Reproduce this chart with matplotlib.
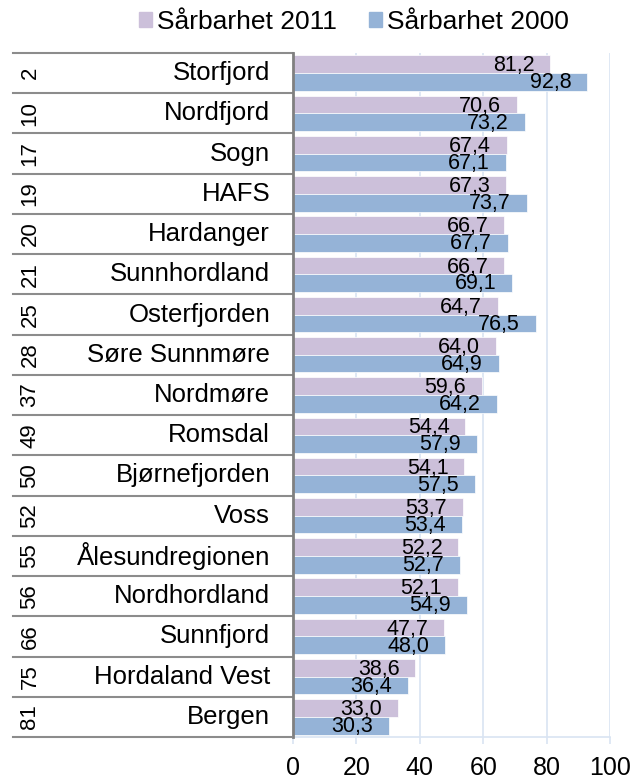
import matplotlib
matplotlib.use("Agg")
from matplotlib import pyplot as plt
from matplotlib.patches import Patch
import numpy as np

plt.rcParams['font.family'] = ['Liberation Sans', 'DejaVu Sans']

ranks = [2, 10, 17, 19, 20, 21, 25, 28, 37, 49, 50, 52, 55, 56, 66, 75, 81]
names = ["Storfjord", "Nordfjord", "Sogn", "HAFS", "Hardanger", "Sunnhordland",
         "Osterfjorden", "Søre Sunnmøre", "Nordmøre", "Romsdal", "Bjørnefjorden",
         "Voss", "Ålesundregionen", "Nordhordland", "Sunnfjord", "Hordaland Vest",
         "Bergen"]
v2011 = [81.2, 70.6, 67.4, 67.3, 66.7, 66.7, 64.7, 64.0, 59.6, 54.4, 54.1,
         53.7, 52.2, 52.1, 47.7, 38.6, 33.0]
v2000 = [92.8, 73.2, 67.1, 73.7, 67.7, 69.1, 76.5, 64.9, 64.2, 57.9, 57.5,
         53.4, 52.7, 54.9, 48.0, 36.4, 30.3]
ticks = [0, 20, 40, 60, 80, 100]

c2011 = "#CCC0DA"
c2000 = "#95B3D7"
grid_c = "#D9E4F2"

fig = plt.figure(figsize=(6.37, 7.81), dpi=100)
ax = fig.add_axes([293/637, 1-737/781, 317/637, 684/781])

y = np.arange(len(names))
h = 0.44
ax.barh(y - h/2, v2011, height=h, color=c2011, edgecolor="white", linewidth=0.5, zorder=2)
ax.barh(y + h/2, v2000, height=h, color=c2000, edgecolor="white", linewidth=0.5, zorder=2)

for i in range(len(names)):
    ax.annotate(f"{v2011[i]:.1f}".replace(".", ","), (v2011[i], y[i] - h/2 + 0.04),
                xytext=(-16, 0), textcoords="offset pixels", ha="right", va="center",
                fontsize=15.5, zorder=3)
    ax.annotate(f"{v2000[i]:.1f}".replace(".", ","), (v2000[i], y[i] + h/2 + 0.02),
                xytext=(-16, 0), textcoords="offset pixels", ha="right", va="center",
                fontsize=15.5, zorder=3)

ax.set_xlim(0, 100)
ax.set_ylim(len(names) - 0.5, -0.5)
ax.set_xticks(ticks)
ax.set_xticklabels([str(t) for t in ticks], fontsize=18)
ax.set_yticks([])
ax.tick_params(axis="x", colors=grid_c, length=5, width=1.2, pad=9, labelcolor="black")
ax.xaxis.grid(True, color=grid_c, linewidth=1.2, zorder=0)
for s in ["top", "right"]:
    ax.spines[s].set_visible(False)
ax.spines["bottom"].set_color(grid_c)
ax.spines["bottom"].set_linewidth(1.2)
ax.spines["left"].set_color("#808080")
ax.spines["left"].set_linewidth(2)
ax.spines["left"].set_zorder(4)

# table on the left
tr = ax.get_yaxis_transform()
x_left = -(293 - 13) / 317
for b in np.arange(len(names) + 1) - 0.5:
    ax.plot([x_left, 0], [b, b], color="#8C8C8C", linewidth=1.5, transform=tr, clip_on=False)
for i in range(len(names)):
    ax.text(-(293 - 30) / 317, y[i], str(ranks[i]), rotation=90, ha="center", va="center",
            fontsize=16, transform=tr)
    ax.text(-(293 - 270) / 317, y[i], names[i], ha="right", va="center",
            fontsize=18.5, transform=tr)

handles = [Patch(color=c2011, label="Sårbarhet 2011"), Patch(color=c2000, label="Sårbarhet 2000")]
fig.legend(handles=handles, loc="center", bbox_to_anchor=(354/637, 1-22/781), ncol=2,
           frameon=False, fontsize=19, handlelength=0.5, handleheight=0.5,
           handletextpad=0.2, columnspacing=1.2, borderpad=0)

fig.savefig("out.png", dpi=100)
